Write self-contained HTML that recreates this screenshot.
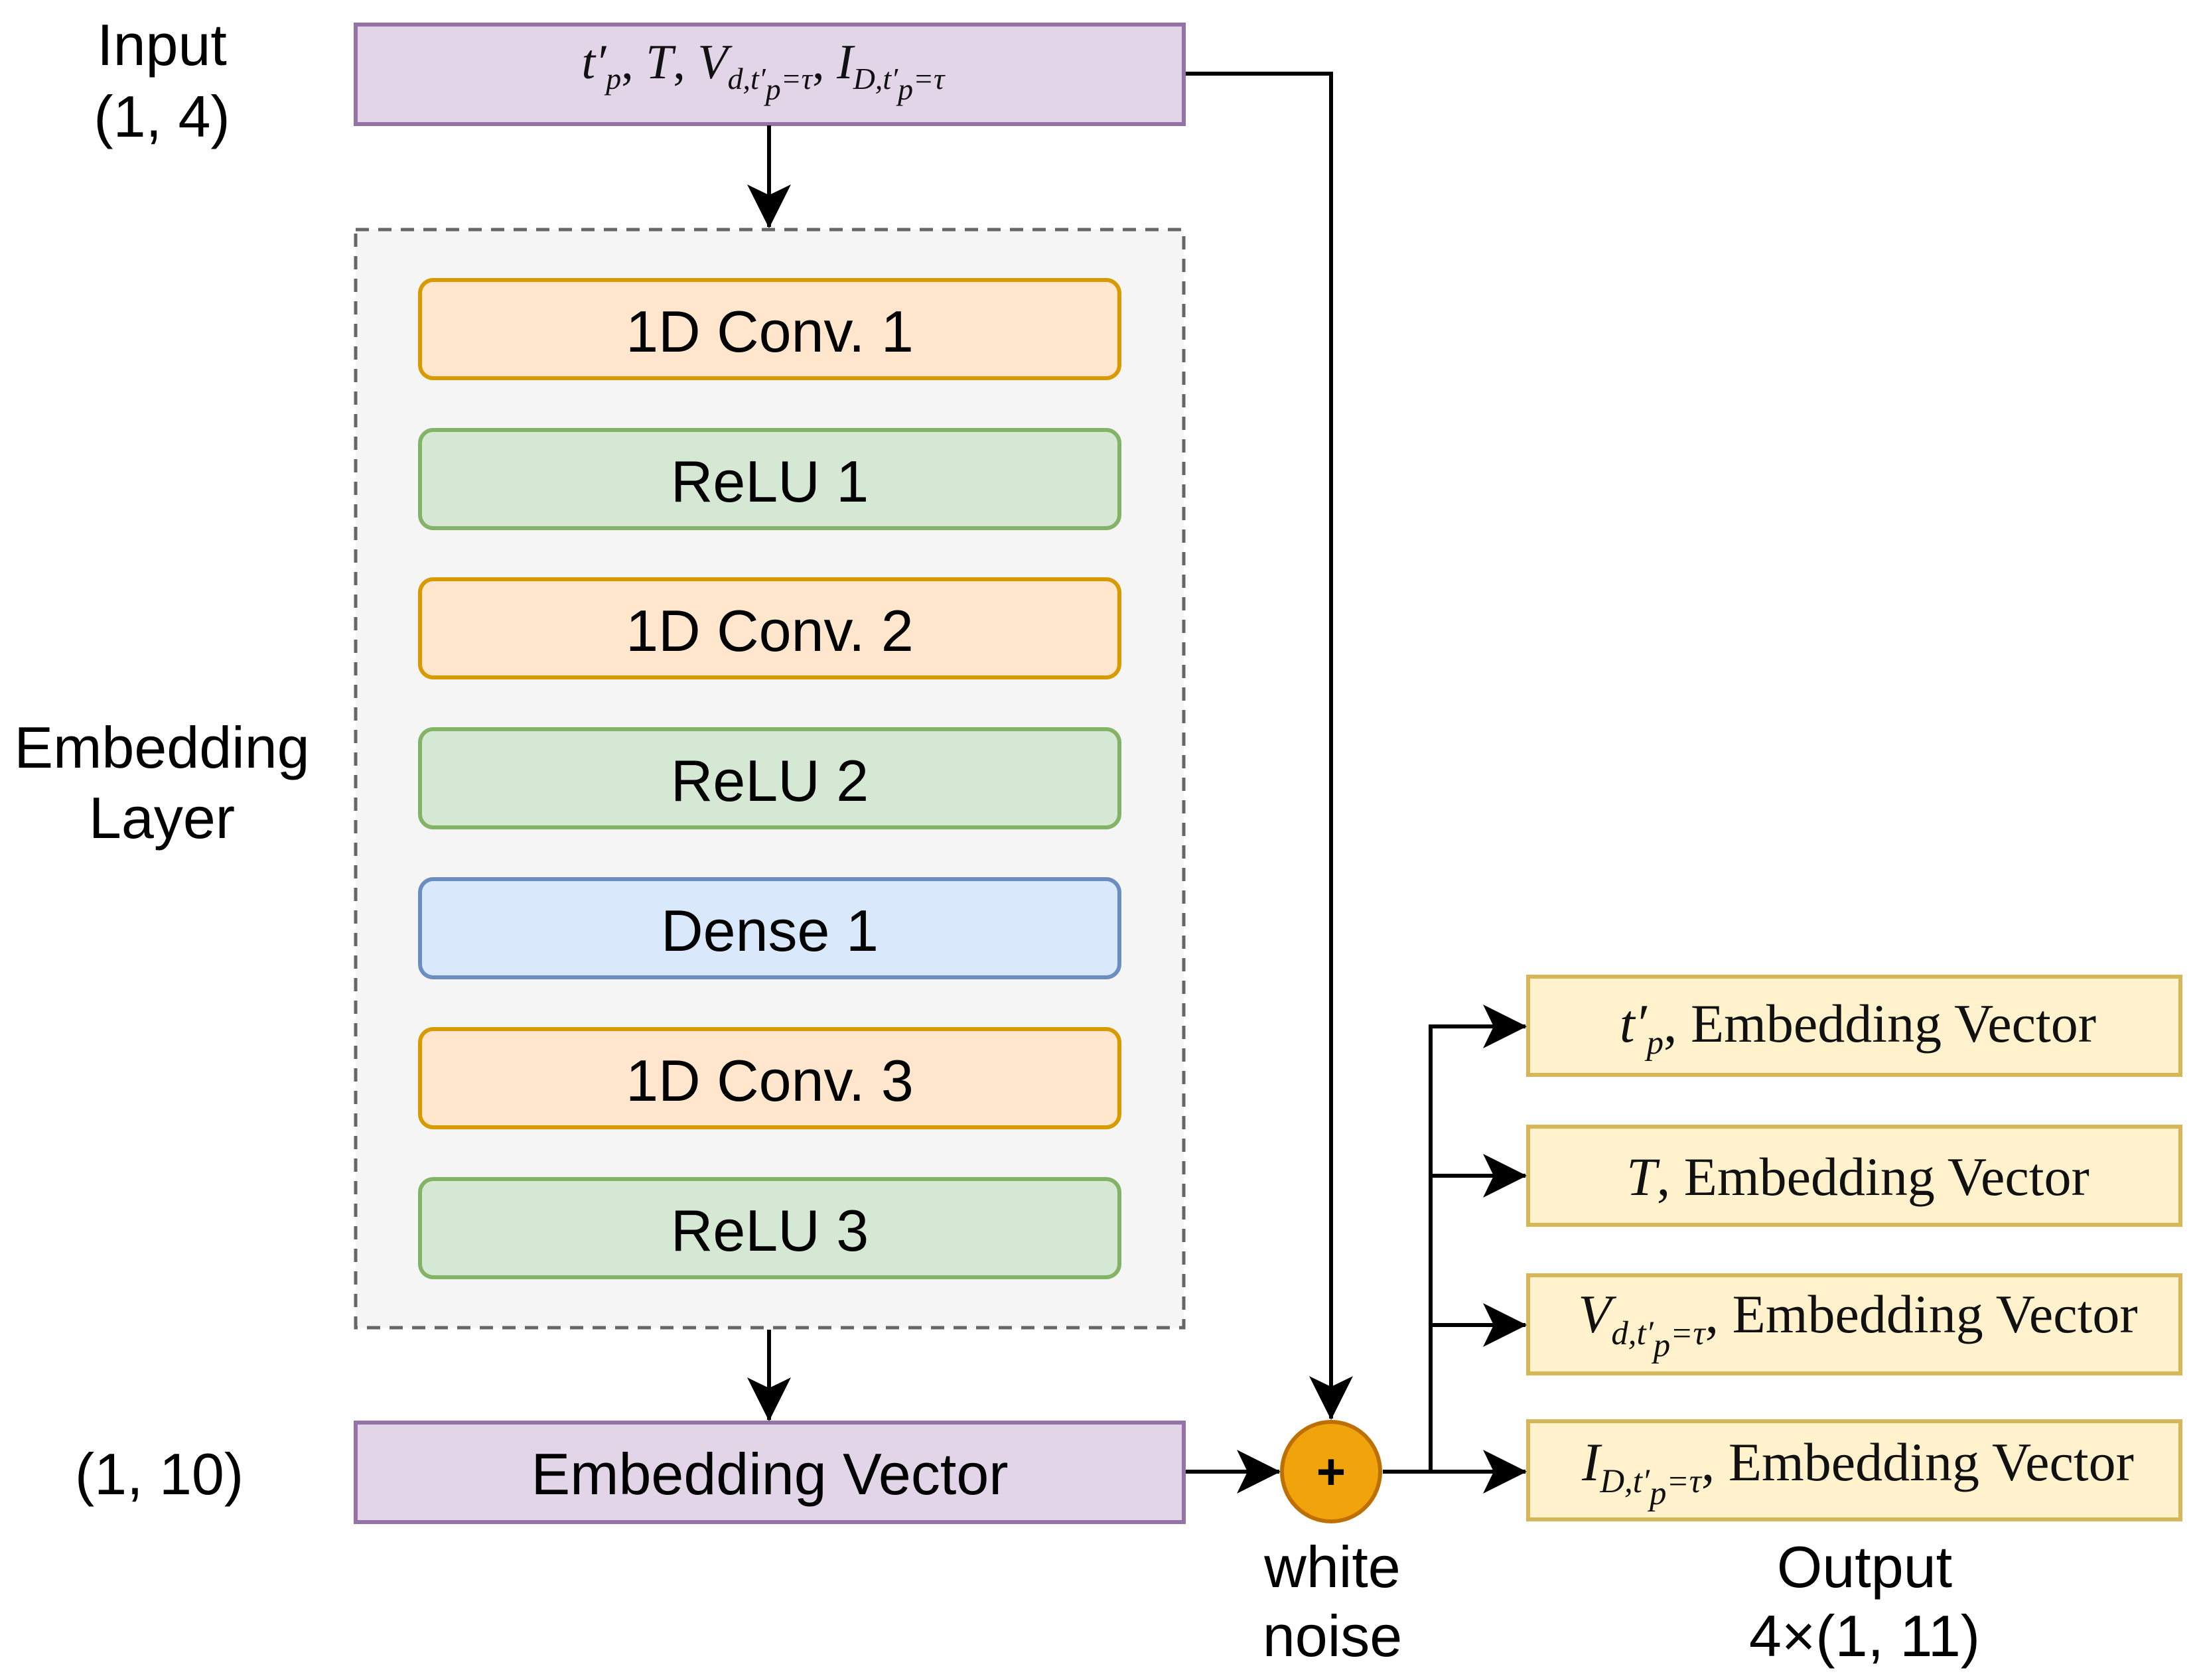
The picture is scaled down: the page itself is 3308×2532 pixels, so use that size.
<!DOCTYPE html>
<html><head><meta charset="utf-8"><style>
body{margin:0;width:3308px;height:2532px;background:#fff;position:relative;overflow:hidden;font-family:"Liberation Sans",sans-serif}
.t{position:absolute;transform:translate(-50%,-50%);white-space:nowrap;text-align:center;line-height:1.2}
.l{font-size:88px;color:#000}
.m{font-family:"Liberation Serif",serif;color:#111}
.m i{font-style:italic}
sub{font-size:62%;vertical-align:-0.35em}
sub sub{font-size:100%}
</style></head><body>
<svg width="3308" height="2532" style="position:absolute;left:0;top:0">
<defs>
<marker id="a" viewBox="0 0 66 66" refX="64" refY="33" markerWidth="66" markerHeight="66" markerUnits="userSpaceOnUse" orient="auto">
<path d="M0 0 L66 33 L0 66 L16 33 Z" fill="#000"/></marker>
</defs>
<rect x="536" y="37" width="1248" height="150" fill="#e1d5e7" stroke="#9673a6" stroke-width="6"/>
<rect x="536" y="346" width="1248" height="1655" fill="#f5f5f5" stroke="#666" stroke-width="5" stroke-dasharray="20,14"/>
<rect x="633" y="422" width="1054" height="148" rx="20" fill="#ffe6cc" stroke="#d79b00" stroke-width="6"/>
<rect x="633" y="648" width="1054" height="148" rx="20" fill="#d5e8d4" stroke="#82b366" stroke-width="6"/>
<rect x="633" y="873" width="1054" height="148" rx="20" fill="#ffe6cc" stroke="#d79b00" stroke-width="6"/>
<rect x="633" y="1099" width="1054" height="148" rx="20" fill="#d5e8d4" stroke="#82b366" stroke-width="6"/>
<rect x="633" y="1325" width="1054" height="148" rx="20" fill="#dae8fc" stroke="#6c8ebf" stroke-width="6"/>
<rect x="633" y="1551" width="1054" height="148" rx="20" fill="#ffe6cc" stroke="#d79b00" stroke-width="6"/>
<rect x="633" y="1777" width="1054" height="148" rx="20" fill="#d5e8d4" stroke="#82b366" stroke-width="6"/>
<rect x="536" y="2144" width="1248" height="150" fill="#e1d5e7" stroke="#9673a6" stroke-width="6"/>
<rect x="2303" y="1472" width="983" height="148" fill="#fff2cc" stroke="#d6b656" stroke-width="6"/>
<rect x="2303" y="1698" width="983" height="148" fill="#fff2cc" stroke="#d6b656" stroke-width="6"/>
<rect x="2303" y="1922" width="983" height="148" fill="#fff2cc" stroke="#d6b656" stroke-width="6"/>
<rect x="2303" y="2142" width="983" height="148" fill="#fff2cc" stroke="#d6b656" stroke-width="6"/>
<g stroke="#000" stroke-width="6" fill="none">
<line x1="1159" y1="189" x2="1159" y2="342" marker-end="url(#a)"/>
<line x1="1159" y1="2004" x2="1159" y2="2140" marker-end="url(#a)"/>
<polyline points="1787,111 2006,111 2006,2138" marker-end="url(#a)"/>
<line x1="1787" y1="2218" x2="1928" y2="2218" marker-end="url(#a)"/>
<line x1="2084" y1="2218" x2="2299" y2="2218" marker-end="url(#a)"/>
<polyline points="2156,2218 2156,1547 2299,1547" marker-end="url(#a)"/>
<line x1="2156" y1="1772" x2="2299" y2="1772" marker-end="url(#a)"/>
<line x1="2156" y1="1997" x2="2299" y2="1997" marker-end="url(#a)"/>
</g>
<ellipse cx="2006" cy="2218" rx="74" ry="75" fill="#f0a30a" stroke="#bd7000" stroke-width="6"/>
<text x="2006" y="2244" font-family="Liberation Sans" font-size="76" font-weight="bold" text-anchor="middle" fill="#000">+</text>
</svg>
<div class="t l" style="left:244px;top:68px">Input</div>
<div class="t l" style="left:244px;top:176px">(1, 4)</div>
<div class="t l" style="left:244px;top:1180px;line-height:106px">Embedding<br>Layer</div>
<div class="t l" style="left:240px;top:2222px">(1, 10)</div>
<div class="t l" style="left:2008px;top:2414px;line-height:104px">white<br>noise</div>
<div class="t l" style="left:2810px;top:2414px;line-height:104px">Output<br>4×(1, 11)</div>
<div class="t l" style="left:1160px;top:500px">1D Conv. 1</div>
<div class="t l" style="left:1160px;top:726px">ReLU 1</div>
<div class="t l" style="left:1160px;top:951px">1D Conv. 2</div>
<div class="t l" style="left:1160px;top:1177px">ReLU 2</div>
<div class="t l" style="left:1160px;top:1403px">Dense 1</div>
<div class="t l" style="left:1160px;top:1629px">1D Conv. 3</div>
<div class="t l" style="left:1160px;top:1855px">ReLU 3</div>
<div class="t l" style="left:1160px;top:2222px">Embedding Vector</div>
<div class="t m" style="left:1150px;top:106px;font-size:74px"><i>t′<sub>p</sub></i>, <i>T</i>, <i>V<sub>d,t′<sub>p</sub>=τ</sub></i>, <i>I<sub>D,t′<sub>p</sub>=τ</sub></i></div>
<div class="t m" style="left:2800px;top:1548px;font-size:82px"><i>t′<sub>p</sub></i>, Embedding Vector</div>
<div class="t m" style="left:2800px;top:1774px;font-size:82px"><i>T</i>, Embedding Vector</div>
<div class="t m" style="left:2800px;top:1995px;font-size:82px"><i>V<sub>d,t′<sub>p</sub>=τ</sub></i>, Embedding Vector</div>
<div class="t m" style="left:2800px;top:2218px;font-size:82px"><i>I<sub>D,t′<sub>p</sub>=τ</sub></i>, Embedding Vector</div>
</body></html>
